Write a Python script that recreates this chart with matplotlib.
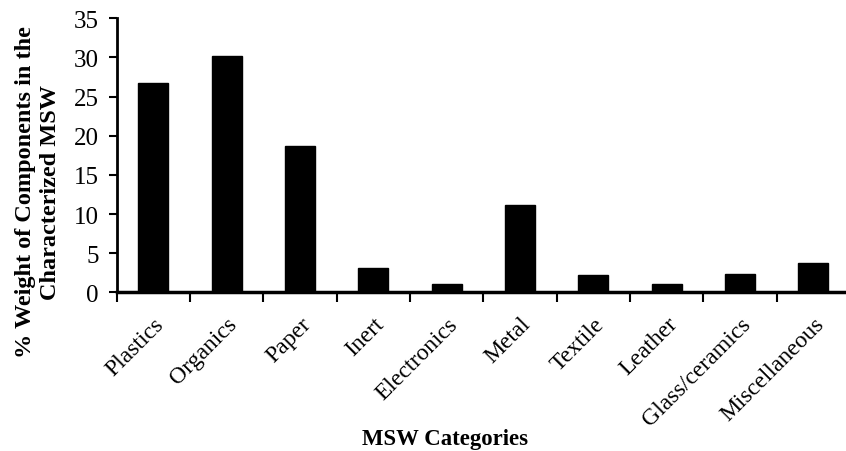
import matplotlib
matplotlib.use("Agg")
import matplotlib.pyplot as plt
import numpy as np

categories = ["Plastics", "Organics", "Paper", "Inert", "Electronics", "Metal",
              "Textile", "Leather", "Glass/ceramics", "Miscellaneous"]
values = [26.7, 30.2, 18.7, 3.1, 1.0, 11.1, 2.2, 1.0, 2.4, 3.7]
yticks = [0, 5, 10, 15, 20, 25, 30, 35]

plt.rcParams['font.family'] = ['Liberation Serif', 'DejaVu Serif']

fig = plt.figure(figsize=(8.46, 4.52), dpi=100)
W, H = 846, 452
x0, x1 = 116.7, 850.0
y0, y1 = 293.3, 19.3
ax = fig.add_axes([x0 / W, 1 - y0 / H, (x1 - x0) / W, (y0 - y1) / H])

x = np.arange(len(categories))
ax.bar(x, values, width=0.41, color="black", edgecolor="black")
ax.set_xlim(-0.5, len(categories) - 0.5)
ax.set_ylim(0, 35)
ax.set_yticks(yticks)
ax.tick_params(axis='y', direction='out', length=6, width=1.5, labelsize=18, pad=7)

ax.set_xticks(np.arange(len(categories) + 1) - 0.5)
ax.set_xticklabels([])
ax.tick_params(axis='x', which='major', direction='out', length=7, width=1.5)
ax.set_xticks(x, minor=True)
ax.set_xticklabels(categories, minor=True, rotation=45, ha='right',
                   rotation_mode='anchor', fontsize=17)
ax.tick_params(axis='x', which='minor', length=0, pad=15)

for s in ['top', 'right']:
    ax.spines[s].set_visible(False)
ax.spines['left'].set_linewidth(2)
ax.spines['bottom'].set_linewidth(2.5)

fig.text(38 / W, 1 - 192 / H, "% Weight of Components in the\nCharacterized MSW",
         fontsize=17.5, fontweight='bold', linespacing=1.25, rotation=90,
         ha='center', va='center', multialignment='center')
fig.text(445 / W, 1 - 440 / H, "MSW Categories", fontsize=16.4,
         fontweight='bold', ha='center', va='center')

fig.savefig("out.png", dpi=100)
